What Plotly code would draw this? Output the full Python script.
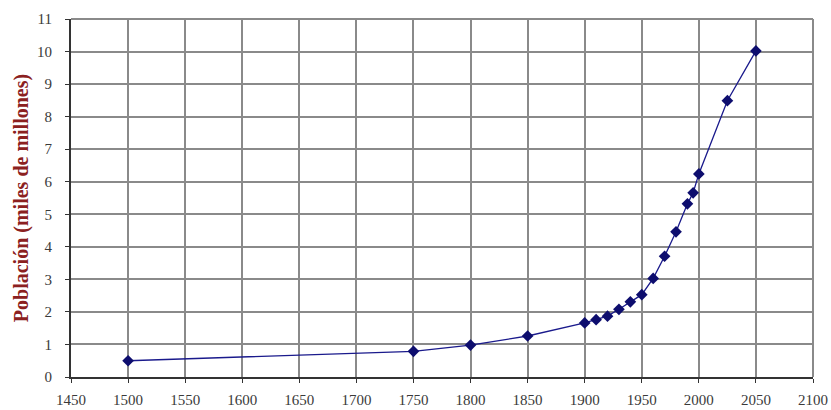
import plotly.graph_objects as go

years = [1500, 1750, 1800, 1850, 1900, 1910, 1920, 1930, 1940, 1950, 1960, 1970, 1980, 1990, 1995, 2000, 2025, 2050]
population = [0.50, 0.79, 0.98, 1.26, 1.66, 1.76, 1.87, 2.08, 2.31, 2.53, 3.03, 3.71, 4.46, 5.32, 5.66, 6.24, 8.49, 10.02]

x_ticks = list(range(1450, 2101, 50))
y_ticks = list(range(0, 12))

fig = go.Figure()
fig.add_trace(go.Scatter(
    x=years, y=population, mode="lines+markers",
    line=dict(color="#1a1a8c", width=1.3),
    marker=dict(symbol="diamond", size=9, color="#0d0d6e"),
    showlegend=False,
))

fig.update_layout(
    width=831, height=410,
    margin=dict(l=71, r=18, t=19, b=33, autoexpand=False),
    paper_bgcolor="white", plot_bgcolor="white",
    font=dict(family="Liberation Serif", size=15, color="#3a3a3a"),
    xaxis=dict(
        range=[1450, 2100], tickvals=x_ticks, ticktext=[str(v) for v in x_ticks],
        showgrid=True, gridcolor="#8a8a8a", gridwidth=1.5,
        showline=True, linecolor="#333333", linewidth=2, mirror=False,
        ticks="outside", ticklen=4, tickcolor="#333333", zeroline=False,
        automargin=False, ticklabelstandoff=4,
    ),
    yaxis=dict(
        range=[0, 11], tickvals=y_ticks, ticktext=[str(v) for v in y_ticks],
        showgrid=True, gridcolor="#8a8a8a", gridwidth=1.5,
        showline=True, linecolor="#333333", linewidth=2,
        ticks="outside", ticklen=4, tickcolor="#333333", zeroline=False,
        automargin=False, ticklabelstandoff=10,
        title=dict(text="<b>Población (miles de millones)</b>",
                   font=dict(family="Liberation Serif", size=20, color="#8b2020"),
                   standoff=3),
    ),
    shapes=[
        dict(type="line", xref="paper", yref="paper", x0=0, x1=1, y0=1, y1=1,
             line=dict(color="#8a8a8a", width=2)),
        dict(type="line", xref="paper", yref="paper", x0=1, x1=1, y0=0, y1=1,
             line=dict(color="#8a8a8a", width=2)),
    ],
)

fig.write_html("out.html", config={"displayModeBar": False},
               post_script="document.body.style.margin='0';document.body.style.overflow='hidden';")
